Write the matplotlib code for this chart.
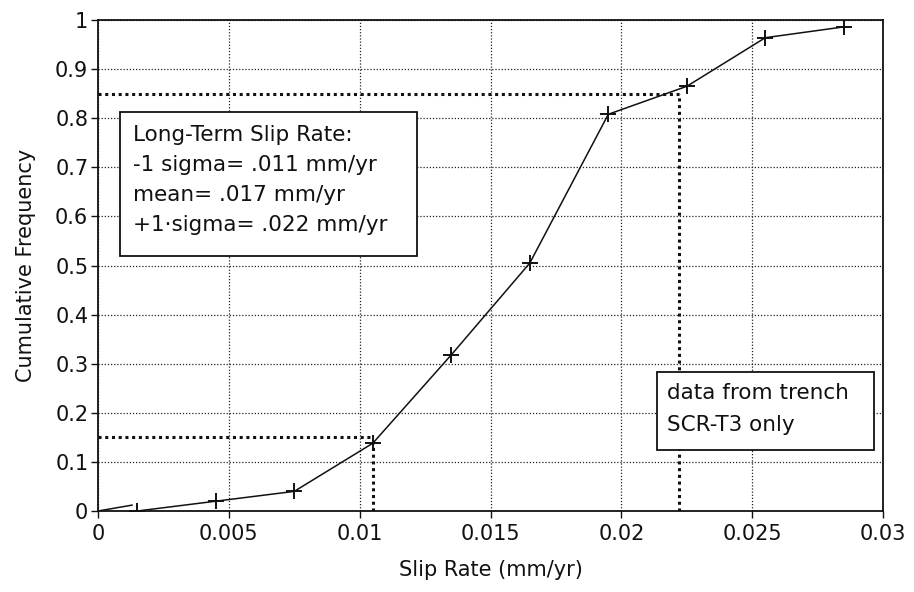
import matplotlib
matplotlib.use("Agg")
import matplotlib.pyplot as plt
from matplotlib.patches import Rectangle

plt.rcParams['font.family'] = ['DejaVu Sans']

# Cumulative frequency of slip rate
slip_rate = [0.0015, 0.0045, 0.0075, 0.0105, 0.0135, 0.0165, 0.0195, 0.0225, 0.0255, 0.0285]
cum_freq = [0.0, 0.02, 0.04, 0.138, 0.318, 0.505, 0.808, 0.865, 0.964, 0.986]
lead_x = [0.0, 0.0013]
lead_y = [0.0, 0.012]

# +/- 1 sigma read-off levels
sigma_freq = [0.15, 0.85]
sigma_rate = [0.0105, 0.0222]

x_ticks = [0, 0.005, 0.01, 0.015, 0.02, 0.025, 0.03]
x_tick_labels = ['0', '0.005', '0.01', '0.015', '0.02', '0.025', '0.03']
y_ticks = [0, 0.1, 0.2, 0.3, 0.4, 0.5, 0.6, 0.7, 0.8, 0.9, 1]
y_tick_labels = ['0', '0.1', '0.2', '0.3', '0.4', '0.5', '0.6', '0.7', '0.8', '0.9', '1']

summary_lines = ['Long-Term Slip Rate:', '-1 sigma= .011 mm/yr',
                 'mean= .017 mm/yr', '+1\u00b7sigma= .022 mm/yr']
source_lines = ['data from trench', 'SCR-T3 only']

ink = '#111111'
fs = 15
box_fs = 15.5

fig = plt.figure(figsize=(9.14, 5.92), dpi=100)
ax = fig.add_axes([0.1072, 0.1368, 0.859, 0.8294])

ax.set_xlim(0, 0.03)
ax.set_ylim(0, 1)
ax.set_xticks(x_ticks)
ax.set_xticklabels(x_tick_labels)
ax.set_yticks(y_ticks)
ax.set_yticklabels(y_tick_labels)
ax.tick_params(axis='both', direction='out', length=5, width=1, labelsize=fs, colors=ink)
ax.tick_params(axis='x', pad=4)
ax.tick_params(axis='y', pad=2)

ax.grid(True, linestyle=(0, (1, 1.5)), color='#222222', linewidth=0.9)
for sp in ax.spines.values():
    sp.set_linewidth(1.3)
    sp.set_color(ink)

# guide lines
for f, r in zip(sigma_freq, sigma_rate):
    ax.plot([0, r], [f, f], color=ink, linestyle=(0, (1, 1.2)), linewidth=2.2, zorder=3)
    ax.plot([r, r], [0, f], color=ink, linestyle=(0, (1, 1.2)), linewidth=2.2, zorder=3)

# curve
ax.plot(lead_x, lead_y, color=ink, linewidth=1.1, zorder=4)
ax.plot(slip_rate, cum_freq, color=ink, linewidth=1.1, marker='+',
        markersize=12, markeredgewidth=1.4, zorder=4)

ax.set_xlabel('Slip Rate (mm/yr)', fontsize=fs, labelpad=12, color=ink)
ax.set_ylabel('Cumulative Frequency', fontsize=fs, labelpad=14, color=ink)

# summary box
ax.add_patch(Rectangle((0.00084, 0.519), 0.01135, 0.2936, facecolor='white',
                       edgecolor=ink, linewidth=1.3, zorder=5))
for i, line in enumerate(summary_lines):
    ax.text(0.00134, 0.766 - i * 0.0615, line, fontsize=box_fs, va='center', ha='left',
            color=ink, zorder=6)

# source box
ax.add_patch(Rectangle((0.02136, 0.124), 0.0083, 0.159, facecolor='white',
                       edgecolor=ink, linewidth=1.3, zorder=5))
for i, line in enumerate(source_lines):
    ax.text(0.02173, 0.241 - i * 0.065, line, fontsize=box_fs, va='center', ha='left',
            color=ink, zorder=6)

fig.savefig('out.png', dpi=100, facecolor='white')
